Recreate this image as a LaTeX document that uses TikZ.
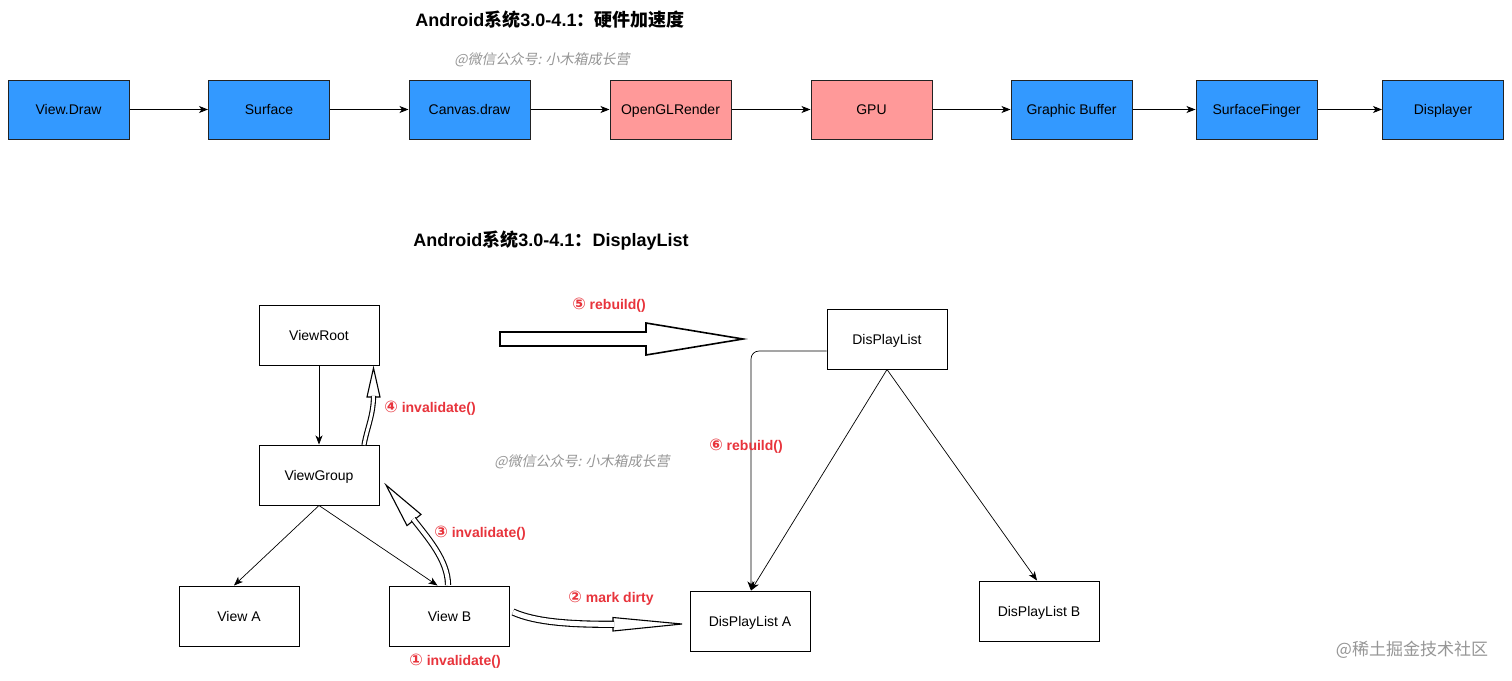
\documentclass[tikz,border=0pt]{standalone}
\usepackage{fontspec}
\setmainfont{Liberation Sans}
\newfontfamily\cjk{Noto Sans CJK SC}
\newfontfamily\cjkit[FakeSlant=0.2]{Noto Sans CJK SC}
\newfontfamily\symf{DejaVu Sans}
\newcommand\circnum[1]{{\fontsize{16}{16}\selectfont\symf #1}}
\usetikzlibrary{arrows.meta,calc}
\definecolor{boxblue}{RGB}{51,153,255}
\definecolor{boxpink}{RGB}{255,153,153}
\definecolor{boxborder}{RGB}{34,34,34}
\definecolor{labred}{RGB}{232,52,60}
\definecolor{wmgray}{RGB}{150,150,150}
\begin{document}
\begin{tikzpicture}[x={(1pt,0)},y={(0,-1pt)},
  basebox/.style={draw=boxborder, line width=1pt, minimum width=121pt, minimum height=59pt, inner sep=0pt, text depth=0pt, text height=10pt, font=\fontsize{14}{16}\selectfont},
  bluebox/.style={basebox, fill=boxblue},
  pinkbox/.style={basebox, fill=boxpink},
  whitebox/.style={basebox, draw=black, fill=white, minimum width=120pt, minimum height=60pt},
  arr/.style={draw=black, line width=0.9pt, -{Stealth[length=9pt,width=7pt,inset=2.5pt]}},
  thinarr/.style={draw=black, line width=0.7pt, -{Stealth[length=9pt,width=7pt,inset=2.5pt]}},
  flexbody/.style={draw=black, line width=1.1pt, double=white, double distance=#1},
  flexhead/.style={fill=white, draw=black, line width=1.1pt, line join=miter},
  redlab/.style={text=labred, font=\fontsize{14}{16}\selectfont\bfseries, inner sep=0pt},
  wmtext/.style={text=wmgray, font=\fontsize{14}{16}\selectfont\cjkit, inner sep=0pt},
  titletext/.style={font=\fontsize{18}{20}\selectfont\bfseries, inner sep=0pt}
]
\fill[white] (0,0) rectangle (1512,680);
\useasboundingbox (0,0) rectangle (1512,680);

% titles
\node[titletext] (t1) at (550,20) {Android{\cjk 系统}3.0-4.1{\cjk ：硬件加速度}};
\node[wmtext] (w1) at (542,60) {@微信公众号: 小木箱成长营};
\node[titletext] (t2) at (551,241) {Android{\cjk 系统}3.0-4.1{\cjk ：}DisplayList};

% top row
\node[bluebox] (vd) at (68.5,109.5) {View.Draw};
\node[bluebox] (sf) at (269,109.5) {Surface};
\node[bluebox] (cd) at (469.5,109.5) {Canvas.draw};
\node[pinkbox] (ogl) at (670.5,109.5) {OpenGLRender};
\node[pinkbox] (gpu) at (871.5,109.5) {GPU};
\node[bluebox] (gb) at (1071.5,109.5) {Graphic Buffer};
\node[bluebox] (sfg) at (1256.5,109.5) {SurfaceFinger};
\node[bluebox] (dsp) at (1443,109.5) {Displayer};
\draw[arr] (vd) -- (sf);
\draw[arr] (sf) -- (cd);
\draw[arr] (cd) -- (ogl);
\draw[arr] (ogl) -- (gpu);
\draw[arr] (gpu) -- (gb);
\draw[arr] (gb) -- (sfg);
\draw[arr] (sfg) -- (dsp);

% bottom diagram
\node[whitebox] (vr) at (319,335) {ViewRoot};
\node[whitebox] (vg) at (319,475) {ViewGroup};
\node[whitebox] (va) at (239,616) {View A};
\node[whitebox] (vb) at (449.5,616) {View B};
\node[whitebox] (dl) at (887,339) {DisPlayList};
\node[whitebox] (dla) at (750,621) {DisPlayList A};
\node[whitebox] (dlb) at (1039,611) {DisPlayList B};

\draw[thinarr] (vr.south) -- (vg.north);
\draw[thinarr] (vg.south) -- ($(va.north)+(-5,0)$);
\draw[thinarr] (vg.south) -- ($(vb.north)+(-12,0)$);
\draw[thinarr] (dl.south) -- ($(dla.north)+(1,0)$);
\draw[thinarr] (dl.south) -- ($(dlb.north)+(-2,0)$);
\draw[thinarr, rounded corners=8pt] ($(dl.west)+(0,12)$) -| ($(dla.north)+(1,0)$);

% flex arrows
% (5) rebuild big block arrow
\filldraw[flexhead, line width=1.6pt] (500,332) -- (646,332) -- (646,323) -- (743,339) -- (646,355) -- (646,346) -- (500,346) -- cycle;
% (4)
\filldraw[flexhead] (367,397) -- (373.5,368) -- (380,397) -- cycle;
\draw[flexbody=3pt] (364,445) .. controls (367,428) and (373.5,415) .. (373.5,395.8);
% (3)
\filldraw[flexhead] (421,514.4) -- (386,485) -- (407,525.6) -- cycle;
\draw[flexbody=4pt] (448,585) .. controls (448,560) and (427,537) .. (413.2,519);
% (2)
\filldraw[flexhead] (613,617.5) -- (682,624) -- (613,631) -- cycle;
\draw[flexbody=5pt] (513,612) .. controls (535,622) and (570,624.5) .. (614.2,624.3);

% labels
\node[redlab] (l5) at (609,305) {\circnum{⑤} rebuild()};
\node[redlab] (l4) at (430,408) {\circnum{④} invalidate()};
\node[redlab] (l6) at (746,446) {\circnum{⑥} rebuild()};
\node[redlab] (l3) at (480,533) {\circnum{③} invalidate()};
\node[redlab] (l2) at (611,598) {\circnum{②} mark dirty};
\node[redlab] (l1) at (455,661) {\circnum{①} invalidate()};

\node[wmtext] (w2) at (582,462) {@微信公众号: 小木箱成长营};
\node[text=wmgray, font=\fontsize{17}{19}\selectfont\cjk, inner sep=0pt] (w3) at (1412,650) {@稀土掘金技术社区};
\end{tikzpicture}
\end{document}
